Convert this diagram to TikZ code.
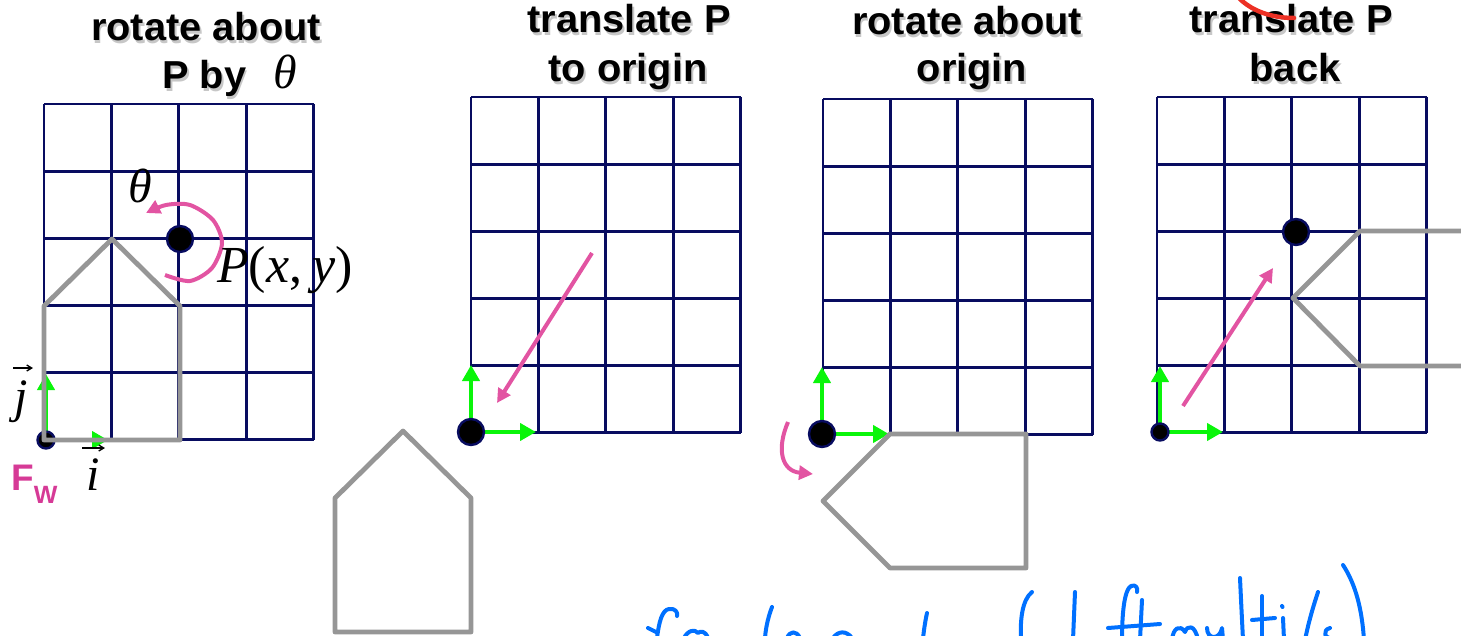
\documentclass[tikz,border=0pt]{standalone}
\usepackage{fontspec}
\setmainfont{Liberation Serif}
\newfontfamily\titlefont[FakeStretch=1.02]{Liberation Sans Bold}
\newfontfamily\labelfont{Liberation Sans Bold}
\newfontfamily\tms{Liberation Serif}
\usetikzlibrary{arrows.meta,calc}

\definecolor{gridnavy}{RGB}{8,12,96}
\definecolor{housegray}{RGB}{150,150,150}
\definecolor{axisgreen}{RGB}{10,245,10}
\definecolor{motionpink}{RGB}{226,84,162}
\definecolor{fwpink}{RGB}{214,58,150}
\definecolor{inkblue}{RGB}{0,112,255}
\definecolor{inkred}{RGB}{236,48,36}

% bold heading line with a soft drop shadow
\newcommand{\shd}[1]{\leavevmode\rlap{\kern1.8pt\raisebox{-2.4pt}{\color{black!22}#1}}#1}

\tikzset{
  gridline/.style={draw=gridnavy, line width=2.9pt},
  house/.style={draw=housegray, line width=4.8pt, line join=round},
  axis/.style={draw=axisgreen, line width=4.6pt, -{Triangle[length=16pt,width=17pt]}},
  bigdot/.style={circle, fill=black, draw=gridnavy, line width=2.4pt, minimum size=26pt, inner sep=0pt},
  smalldot/.style={circle, fill=black, draw=gridnavy, line width=2.4pt, minimum size=17pt, inner sep=0pt},
  motion/.style={draw=motionpink, line width=4pt, -{Triangle[length=14pt,width=14pt]}},
  heading/.style={anchor=base, inner sep=0pt, font=\titlefont\fontsize{39}{44}\selectfont},
  mathlabel/.style={anchor=base, inner sep=0pt, font=\tms\itshape\fontsize{48}{48}\selectfont},
  vecmark/.style={draw=black, line width=1.3pt, -{Straight Barb[length=5pt,width=6pt]}},
  ink/.style={draw=inkblue, line width=4pt, line cap=round, line join=round},
  panelgrid/.pic={
    \foreach \c in {0,...,4} \draw[gridline] (\c*67.4,0) -- (\c*67.4,335.5);
    \foreach \r in {0,...,5} \draw[gridline] (0,\r*67.1) -- (269.6,\r*67.1);
  }
}

\begin{document}
\begin{tikzpicture}[x=1pt,y=-1pt]
\useasboundingbox (0,0) rectangle (1461,636);
\clip (0,0) rectangle (1461,636);

% ---------- grids ----------
\pic at (44,104) {panelgrid};
\pic at (471,97) {panelgrid};
\pic at (823,99) {panelgrid};
\pic at (1157,97) {panelgrid};

% ---------- frame origins and basis vectors ----------
\coordinate (o1) at (46,440);
\coordinate (o1j) at (46,374);
\coordinate (o1i) at (108,440);
\draw[axis] (o1) -- (o1j);
\draw[axis] (o1) -- (o1i);
\node[smalldot] (d1) at (o1) {};

\coordinate (o2) at (471,432);
\coordinate (o2j) at (471,365);
\coordinate (o2i) at (536,432);
\draw[axis] (o2) -- (o2j);
\draw[axis] (o2) -- (o2i);
\node[bigdot] (d2) at (o2) {};

\coordinate (o3) at (822,434);
\coordinate (o3j) at (822,367);
\coordinate (o3i) at (889,434);
\draw[axis] (o3) -- (o3j);
\draw[axis] (o3) -- (o3i);
\node[bigdot] (d3) at (o3) {};

\coordinate (o4) at (1160,432);
\coordinate (o4j) at (1160,366);
\coordinate (o4i) at (1223,432);
\draw[axis] (o4) -- (o4j);
\draw[axis] (o4) -- (o4i);
\node[smalldot] (d4) at (o4) {};

% ---------- pivot point P ----------
\node[bigdot] (p1) at (180,239) {};
\node[bigdot] (p4) at (1296,232) {};

% ---------- the house in each stage ----------
\draw[house] (44,440) -- (180,440) -- (180,306) -- (112,239) -- (44,306) -- cycle;
\draw[house] (335,632) -- (471,632) -- (471,498) -- (403,431) -- (335,498) -- cycle;
\draw[house] (890,434) -- (1026,434) -- (1026,568) -- (890,568) -- (823,501) -- cycle;
\draw[house] (1360,231) -- (1496,231) -- (1496,366) -- (1360,366) -- (1293,298) -- cycle;

% ---------- motion arrows ----------
\draw[motion] plot[smooth] coordinates {(165,275) (190,281) (212,268) (222,243) (213,220) (190,205) (166,205) (146,213)};
\coordinate (m2a) at (592,253);
\coordinate (m2b) at (497,403);
\draw[motion] (m2a) -- (m2b);
\coordinate (m3a) at (788,422);
\coordinate (m3b) at (813,474);
\draw[motion] (m3a) .. controls (776,450) and (782,471) .. (m3b);
\coordinate (m4a) at (1183,406);
\coordinate (m4b) at (1273,268);
\draw[motion] (m4a) -- (m4b);

% ---------- headings ----------
\node[heading] (t1a) at (206,41) {\shd{rotate about}};
\node[heading, anchor=base west] (t1b) at (162,89) {\shd{P by}};
\node[mathlabel] (t1c) at (285,89) {θ};
\node[heading] (t2a) at (629,33) {\shd{translate P}};
\node[heading] (t2b) at (628,82) {\shd{to origin}};
\node[heading] (t3a) at (967,35) {\shd{rotate about}};
\node[heading] (t3b) at (972,82) {\shd{origin}};
\node[heading] (t4a) at (1291,33) {\shd{translate P}};
\node[heading] (t4b) at (1295,82) {\shd{back}};

% ---------- labels in the first panel ----------
\node[mathlabel] (theta) at (140,203) {θ};
\node[mathlabel, anchor=base west, font=\tms\fontsize{52}{52}\selectfont] (pxy) at (217,283)
  {\textit{P}(\textit{x},\kern10pt\textit{y})};
\node[mathlabel] (jl) at (21,412) {j};
\draw[vecmark] ($(jl.base)+(-8,-44)$) -- ($(jl.base)+(12,-44)$);
\node[mathlabel] (il) at (93,490) {i};
\draw[vecmark] ($(il.base)+(-11,-42)$) -- ($(il.base)+(12,-42)$);
\node[anchor=base west, inner sep=0pt, text=fwpink] (fw) at (11,490)
  {\labelfont\fontsize{37}{37}\selectfont F\raisebox{-13pt}{\fontsize{25}{25}\selectfont W}};

% ---------- pen annotations ----------
\draw[inkred, line width=4.5pt, line cap=round] (1238,-3) .. controls (1250,10) and (1270,18) .. (1294,18);

\draw[ink] (657,638) .. controls (659,622) and (662,610) .. (669,609) .. controls (675,608) and (678,612) .. (677,616);
\draw[ink] (648,628) -- (656,632);
\draw[ink] (684,638) .. controls (688,630) and (695,629) .. (698,633) .. controls (700,631) and (705,630) .. (708,638);
\draw[ink] (772,607) .. controls (769,615) and (766,625) .. (765,638);
\draw[ink] (787,638) .. controls (790,631) and (796,630) .. (800,638);
\draw[ink] (833,638) .. controls (838,631) and (846,630) .. (852,638);
\draw[ink] (927,613) .. controls (925,622) and (924,630) .. (923,638);
\draw[ink] (1032,592) .. controls (1022,600) and (1020,620) .. (1021,640);
\draw[ink] (1075,592) -- (1073,640);
\draw[ink] (1122,640) .. controls (1122,615) and (1124,590) .. (1131,586) .. controls (1136,584) and (1138,588) .. (1137,592);
\draw[ink] (1108,628) -- (1160,624);
\draw[ink] (1142,600) -- (1140,640);
\draw[ink] (1172,640) .. controls (1173,628) and (1180,624) .. (1185,632) .. controls (1187,625) and (1195,624) .. (1198,640);
\draw[ink] (1207,628) .. controls (1207,640) and (1220,640) .. (1222,628) -- (1223,640);
\draw[ink] (1240,578) .. controls (1241,600) and (1242,620) .. (1243,640);
\draw[ink] (1262,596) -- (1262,640);
\draw[ink] (1252,620) -- (1275,618);
\draw[ink] (1283,618) -- (1284,640);
\draw[ink] (1282,606) -- (1282.5,607);
\draw[ink] (1318,592) .. controls (1312,610) and (1308,625) .. (1305,640);
\draw[ink] (1330,628) .. controls (1322,630) and (1324,640) .. (1334,638);
\draw[ink] (1343,565) .. controls (1356,585) and (1362,610) .. (1364,640);
\end{tikzpicture}
\end{document}
